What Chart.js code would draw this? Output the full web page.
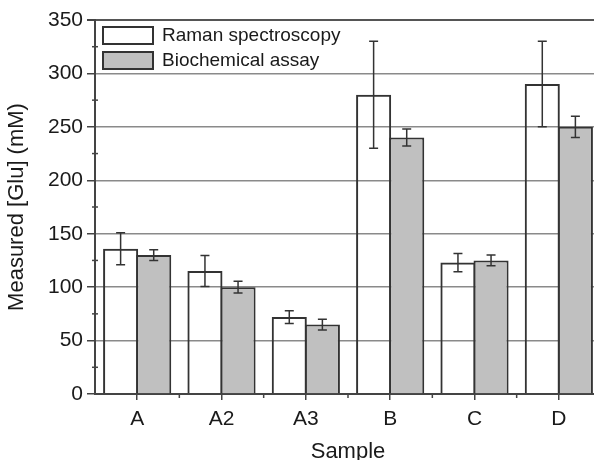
<!DOCTYPE html>
<html lang="en">
<head>
    <meta charset="UTF-8">
    <title>Measured Glu</title>
    <script src="https://cdn.jsdelivr.net/npm/chart.js"></script>
    <style>
        html, body { margin: 0; padding: 0; overflow: hidden; background: #fff; }
        #glu { display: block; }
    </style>
</head>
<body>
    <canvas id="glu" width="601" height="460"></canvas>

    <script>
        const samples = ['A', 'A2', 'A3', 'B', 'C', 'D'];
        const ramanValues = [136, 115, 72, 280, 123, 290];
        const ramanErrors = [15, 14.5, 6, 50, 8.5, 40];
        const assayValues = [130, 100, 65, 240, 125, 250];
        const assayErrors = [5, 5.5, 5, 8, 5, 10];
        const yTicks = [0, 50, 100, 150, 200, 250, 300, 350];

        const errors = [ramanErrors, assayErrors];
        const family = '"Liberation Sans", Arial, sans-serif';
        const axisFont = { family: family, size: 21 };
        const titleFont = { family: family, size: 22 };
        const legendFont = { family: family, size: 19 };
        const ink = '#1a1a1a';

        // error bars, minor ticks and the legend inside the plot
        const extras = {
            id: 'extras',
            afterDatasetsDraw(chart) {
                const ctx = chart.ctx;
                const y = chart.scales.y;
                const x = chart.scales.x;
                const area = chart.chartArea;
                ctx.save();
                ctx.strokeStyle = '#333';
                ctx.lineWidth = 1.5;
                chart.data.datasets.forEach((ds, d) => {
                    chart.getDatasetMeta(d).data.forEach((bar, i) => {
                        const v = ds.data[i], e = errors[d][i];
                        const top = y.getPixelForValue(v + e);
                        const bot = y.getPixelForValue(v - e);
                        ctx.beginPath();
                        ctx.moveTo(bar.x, top); ctx.lineTo(bar.x, bot);
                        ctx.moveTo(bar.x - 4.5, top); ctx.lineTo(bar.x + 4.5, top);
                        ctx.moveTo(bar.x - 4.5, bot); ctx.lineTo(bar.x + 4.5, bot);
                        ctx.stroke();
                    });
                });

                // minor y ticks
                ctx.strokeStyle = '#444';
                ctx.lineWidth = 1.5;
                for (let v = 25; v < 350; v += 50) {
                    const py = y.getPixelForValue(v);
                    ctx.beginPath();
                    ctx.moveTo(area.left - 3, py); ctx.lineTo(area.left + 3, py);
                    ctx.stroke();
                }
                // minor x ticks at category boundaries
                for (let i = 0; i < samples.length - 1; i++) {
                    const px = (x.getPixelForValue(i) + x.getPixelForValue(i + 1)) / 2;
                    ctx.beginPath();
                    ctx.moveTo(px, area.bottom); ctx.lineTo(px, area.bottom + 4);
                    ctx.stroke();
                }

                // legend
                ctx.font = legendFont.size + 'px ' + family;
                ctx.textBaseline = 'middle';
                chart.data.datasets.forEach((ds, d) => {
                    const ly = area.top + 7 + d * 25;
                    ctx.fillStyle = ds.backgroundColor;
                    ctx.fillRect(area.left + 8, ly, 50, 17);
                    ctx.strokeStyle = '#333';
                    ctx.lineWidth = 2;
                    ctx.strokeRect(area.left + 8, ly, 50, 17);
                    ctx.fillStyle = ink;
                    ctx.fillText(ds.label, area.left + 67, ly + 9);
                });
                ctx.restore();
            }
        };

        new Chart(document.getElementById('glu'), {
            type: 'bar',
            data: {
                labels: samples,
                datasets: [
                    {
                        label: 'Raman spectroscopy',
                        data: ramanValues,
                        backgroundColor: 'rgba(255,255,255,0)',
                        borderColor: '#333',
                        borderWidth: 2,
                        categoryPercentage: 0.785,
                        barPercentage: 1.06
                    },
                    {
                        label: 'Biochemical assay',
                        data: assayValues,
                        backgroundColor: '#c0c0c0',
                        borderColor: '#333',
                        borderWidth: 2,
                        categoryPercentage: 0.785,
                        barPercentage: 1.06
                    }
                ]
            },
            options: {
                responsive: false,
                animation: false,
                layout: { padding: { top: 20, right: 0, left: 0, bottom: -9 } },
                plugins: {
                    legend: { display: false },
                    tooltip: { enabled: false }
                },
                scales: {
                    x: {
                        grid: {
                            offset: false,
                            drawOnChartArea: false,
                            drawTicks: true,
                            tickLength: 6,
                            tickColor: '#444',
                            lineWidth: 1.5
                        },
                        border: { display: true, color: '#444', width: 2 },
                        ticks: { color: ink, font: axisFont, padding: 7 },
                        title: { display: true, text: 'Sample', color: ink, font: titleFont, padding: { top: 6 } },
                        afterFit(scale) { scale.height = 75; }
                    },
                    y: {
                        min: 0,
                        max: 350,
                        afterBuildTicks(scale) { scale.ticks = yTicks.map(v => ({ value: v })); },
                        grid: {
                            color: ctx => ctx.tick && ctx.tick.value === 350 ? '#555' : (ctx.tick && ctx.tick.value === 0 ? '#444' : '#8a8a8a'),
                            lineWidth: ctx => ctx.tick && ctx.tick.value === 350 ? 2 : 1.5,
                            tickLength: 8,
                            tickColor: '#444'
                        },
                        border: { display: true, color: '#444', width: 2 },
                        ticks: { color: ink, font: axisFont, padding: 4 },
                        title: { display: true, text: 'Measured [Glu] (mM)', color: ink, font: titleFont, padding: { bottom: 0 } },
                        afterFit(scale) { scale.width = 95; }
                    }
                }
            },
            plugins: [extras]
        });
    </script>
</body>
</html>
